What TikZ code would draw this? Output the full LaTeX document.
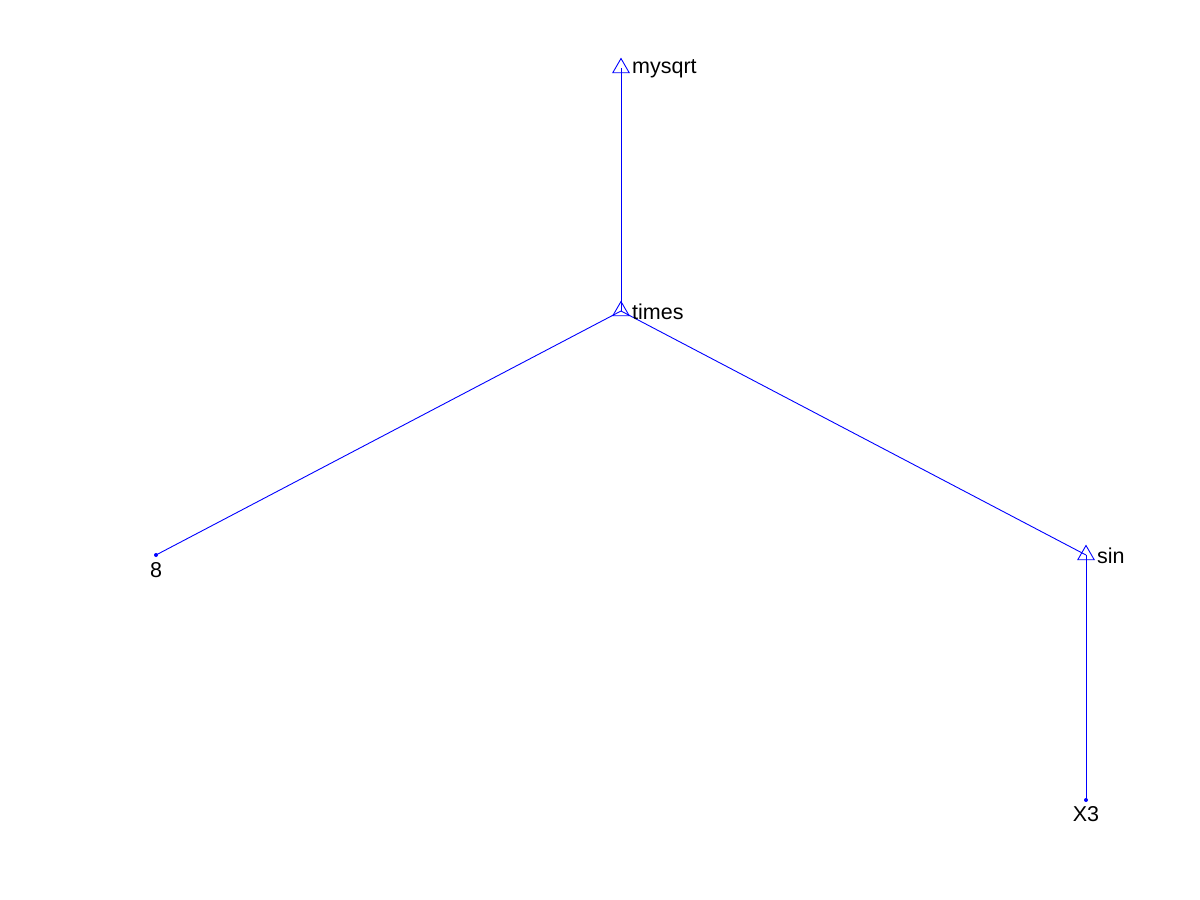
\documentclass[tikz,border=0pt]{standalone}
\usepackage{fontspec}
\setmainfont{Liberation Sans}
\usetikzlibrary{shapes.geometric}
\definecolor{treeblue}{RGB}{0,0,255}
\begin{document}
\begin{tikzpicture}[x=1pt,y=-1pt,
  inner/.style={regular polygon, regular polygon sides=3, draw=treeblue, line width=0.9pt, minimum size=19pt, inner sep=0pt},
  leaf/.style={circle, fill=treeblue, inner sep=0pt, minimum size=4pt},
  edge/.style={draw=treeblue, line width=0.9pt},
  lbl/.style={font=\fontsize{21.5}{24}\selectfont, text=black, inner sep=0pt}]
\fill[white] (0,0) rectangle (1200,900);
\useasboundingbox (0,0) rectangle (1200,900);
\coordinate (c1) at (621,68);
\coordinate (c2) at (621,311);
\coordinate (c3) at (156,555);
\coordinate (c4) at (1086,555);
\coordinate (c5) at (1086,800);
\draw[edge] (c2) -- (c1);
\draw[edge] (c3) -- (c2);
\draw[edge] (c4) -- (c2);
\draw[edge] (c5) -- (c4);
\node[inner] (mysqrt) at (c1) {};
\node[inner] (times) at (c2) {};
\node[leaf] (eight) at (c3) {};
\node[inner] (sin) at (c4) {};
\node[leaf] (x3) at (c5) {};
\node[lbl, anchor=west] (lmysqrt) at (632,69) {mysqrt};
\node[lbl, anchor=west] (ltimes) at (632,312) {times};
\node[lbl, anchor=west] (lsin) at (1097,556) {sin};
\node[lbl] (leight) at (156,570) {8};
\node[lbl] (lx3) at (1086,814) {X3};
\end{tikzpicture}
\end{document}
